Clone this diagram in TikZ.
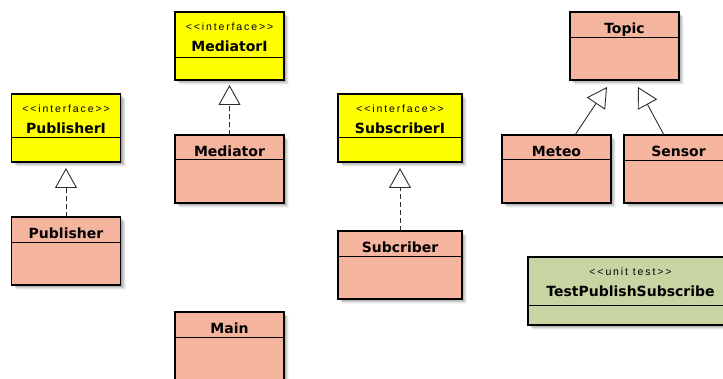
\documentclass[tikz,border=0pt]{standalone}
\usepackage{fontspec}
\usetikzlibrary{arrows.meta,calc}

\newfontfamily\titlefont{DejaVu Sans}
\newfontfamily\stereofont[LetterSpace=18]{Liberation Sans}

\definecolor{ifacefill}{RGB}{255,255,0}
\definecolor{classfill}{RGB}{245,180,158}
\definecolor{testfill}{RGB}{200,213,162}
\definecolor{edgecol}{RGB}{45,45,45}

\tikzset{
  umlbox/.style={draw=black, line width=1.1pt, anchor=north west, inner sep=0pt, outer sep=0pt},
  classtitle/.style={anchor=base, inner sep=0pt, font=\titlefont\bfseries\fontsize{14}{16}\selectfont},
  stereotype/.style={anchor=base, inner sep=0pt, font=\stereofont\fontsize{10.5}{12}\selectfont},
  divider/.style={draw=black, line width=0.9pt},
  realize/.style={draw=edgecol, line width=0.9pt, dash pattern=on 5pt off 3pt,
    -{Triangle[length=20pt, width=22pt, fill=white]}},
  generalize/.style={draw=edgecol, line width=0.9pt,
    -{Triangle[length=20pt, width=22pt, fill=white]}},
}

% soft drop shadow below and right of a box: left, top, width, height
\newcommand\boxshadow[4]{%
  \foreach \s/\o in {1/0.10,2/0.10,3/0.09,4/0.07,5/0.04}{%
    \fill[black, opacity=\o] (#1+\s,#2+\s) rectangle (#1+#3+\s,#2+#4+\s);
  }%
}

% plain class: name, left, top, width, height, header height, fill, title
\newcommand\umlclass[8]{%
  \boxshadow{#2}{#3}{#4}{#5}
  \node[umlbox, fill=#7, minimum width=#4pt, minimum height=#5pt] (#1) at (#2,#3) {};
  \draw[divider] ($(#1.north west)+(0,#6)$) -- ($(#1.north east)+(0,#6)$);
  \node[classtitle] (#1-title) at ($(#1.north)+(0,21.5)$) {#8};
}

% class with a stereotype line: name, left, top, width, height, header height, fill, stereotype, title
\newcommand\umlstereo[9]{%
  \boxshadow{#2}{#3}{#4}{#5}
  \node[umlbox, fill=#7, minimum width=#4pt, minimum height=#5pt] (#1) at (#2,#3) {};
  \draw[divider] ($(#1.north west)+(0,#6)$) -- ($(#1.north east)+(0,#6)$);
  \node[stereotype] (#1-stereo) at ($(#1.north)+(0,19)$) {#8};
  \node[classtitle] (#1-title) at ($(#1.north)+(0,40)$) {#9};
}

\begin{document}
\begin{tikzpicture}[x=1pt, y=-1pt]
  \useasboundingbox (0,0) rectangle (723,379);
  \clip (0,0) rectangle (723,379);
  \fill[white] (0,0) rectangle (723,379);

  % interfaces
  \umlstereo{pubi}{11.5}{94}{109}{68}{43}{ifacefill}{<<interface>>}{PublisherI}
  \umlstereo{medi}{175}{12}{109}{68}{45}{ifacefill}{<<interface>>}{MediatorI}
  \umlstereo{subi}{338}{94}{124}{68}{43}{ifacefill}{<<interface>>}{SubscriberI}

  % classes
  \umlclass{pub}{11.5}{217}{109}{68}{25}{classfill}{Publisher}
  \umlclass{med}{175}{135}{109}{68}{24}{classfill}{Mediator}
  \umlclass{main}{175}{312}{109}{68}{25}{classfill}{Main}
  \umlclass{sub}{338}{231}{124}{68}{25}{classfill}{Subcriber}
  \umlclass{topic}{570}{12}{109}{68}{25}{classfill}{Topic}
  \umlclass{meteo}{502}{135}{109}{68}{24}{classfill}{Meteo}
  \umlclass{sensor}{624}{135}{109}{68}{25}{classfill}{Sensor}

  % unit test
  \umlstereo{test}{528}{257}{205}{68}{48}{testfill}{<<unit test>>}{TestPublishSubscribe}

  % realizations
  \draw[realize] (pub.north) -- ($(pubi.south)+(0,6)$);
  \draw[realize] (med.north) -- ($(medi.south)+(0,5)$);
  \draw[realize] (sub.north) -- ($(subi.south)+(0,6)$);

  % generalizations
  \coordinate (meteo-out) at ($(meteo.north)+(18.5,0)$);
  \coordinate (topic-in1) at ($(topic.south)+(-17.5,7)$);
  \coordinate (sensor-out) at ($(sensor.north)+(-14.5,0)$);
  \coordinate (topic-in2) at ($(topic.south)+(13.5,7)$);
  \draw[generalize] (meteo-out) -- (topic-in1);
  \draw[generalize] (sensor-out) -- (topic-in2);
\end{tikzpicture}
\end{document}
